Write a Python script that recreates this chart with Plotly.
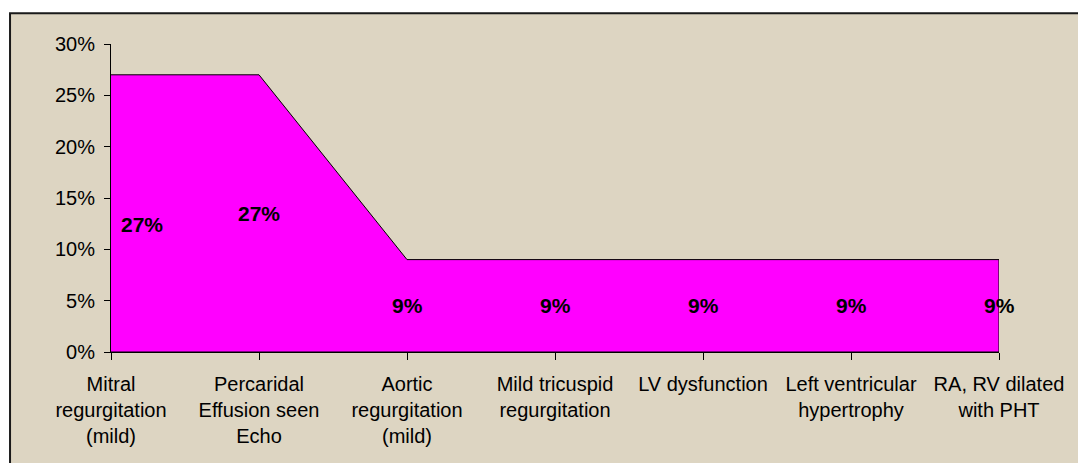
import plotly.graph_objects as go

categories = [
    "Mitral<br>regurgitation<br>(mild)",
    "Percaridal<br>Effusion seen<br>Echo",
    "Aortic<br>regurgitation<br>(mild)",
    "Mild tricuspid<br>regurgitation",
    "LV dysfunction",
    "Left ventricular<br>hypertrophy",
    "RA, RV dilated<br>with PHT",
]
values = [27, 27, 9, 9, 9, 9, 9]
y_ticks = [0, 5, 10, 15, 20, 25, 30]

FONT = "Liberation Sans, Arial, sans-serif"
BG = "#ddd5c2"

idx = list(range(len(categories)))

fig = go.Figure()
# closed area polygon (data line + drop to zero at the ends)
fig.add_trace(go.Scatter(
    x=idx + [idx[-1], idx[0]],
    y=values + [0, 0],
    mode="lines",
    fill="toself",
    fillcolor="#ff00ff",
    line=dict(color="#000000", width=1),
    hoverinfo="skip",
    showlegend=False,
))

annotations = []
for i, v in enumerate(values):
    a = dict(
        x=i, y=v / 2, xref="x", yref="y",
        text=f"<b>{v}%</b>", showarrow=False,
        font=dict(family=FONT, size=21, color="#000000"),
    )
    if i == 0:
        a.update(xanchor="left", xshift=8, yshift=-11)
    annotations.append(a)

fig.update_layout(
    width=1086, height=463,
    margin=dict(l=103, r=95, t=36, b=119, autoexpand=False),
    paper_bgcolor="#ffffff",
    plot_bgcolor="rgba(0,0,0,0)",
    font=dict(family=FONT, size=20, color="#000000"),
    showlegend=False,
    annotations=annotations,
    shapes=[dict(
        type="rect", xref="paper", yref="paper", layer="below",
        x0=-0.1137, x1=1.12, y0=-0.42, y1=1.0995,
        fillcolor=BG, line=dict(color="#1a1a1a", width=2),
    )],
    xaxis=dict(
        range=[0, len(categories) - 1],
        tickmode="array", tickvals=idx, ticktext=categories,
        showline=True, linecolor="#000000", linewidth=1,
        ticks="outside", ticklen=7, tickcolor="#000000",
        ticklabelstandoff=7,
        showgrid=False, zeroline=False, tickangle=0,
        tickfont=dict(family=FONT, size=20, color="#000000"),
    ),
    yaxis=dict(
        range=[0, 30],
        tickmode="array", tickvals=y_ticks,
        ticktext=[f"{t}%" for t in y_ticks],
        showline=True, linecolor="#000000", linewidth=1,
        ticks="outside", ticklen=6, tickcolor="#000000",
        ticklabelstandoff=5,
        showgrid=False, zeroline=False,
        tickfont=dict(family=FONT, size=20, color="#000000"),
    ),
)

fig.write_html("out.html")
